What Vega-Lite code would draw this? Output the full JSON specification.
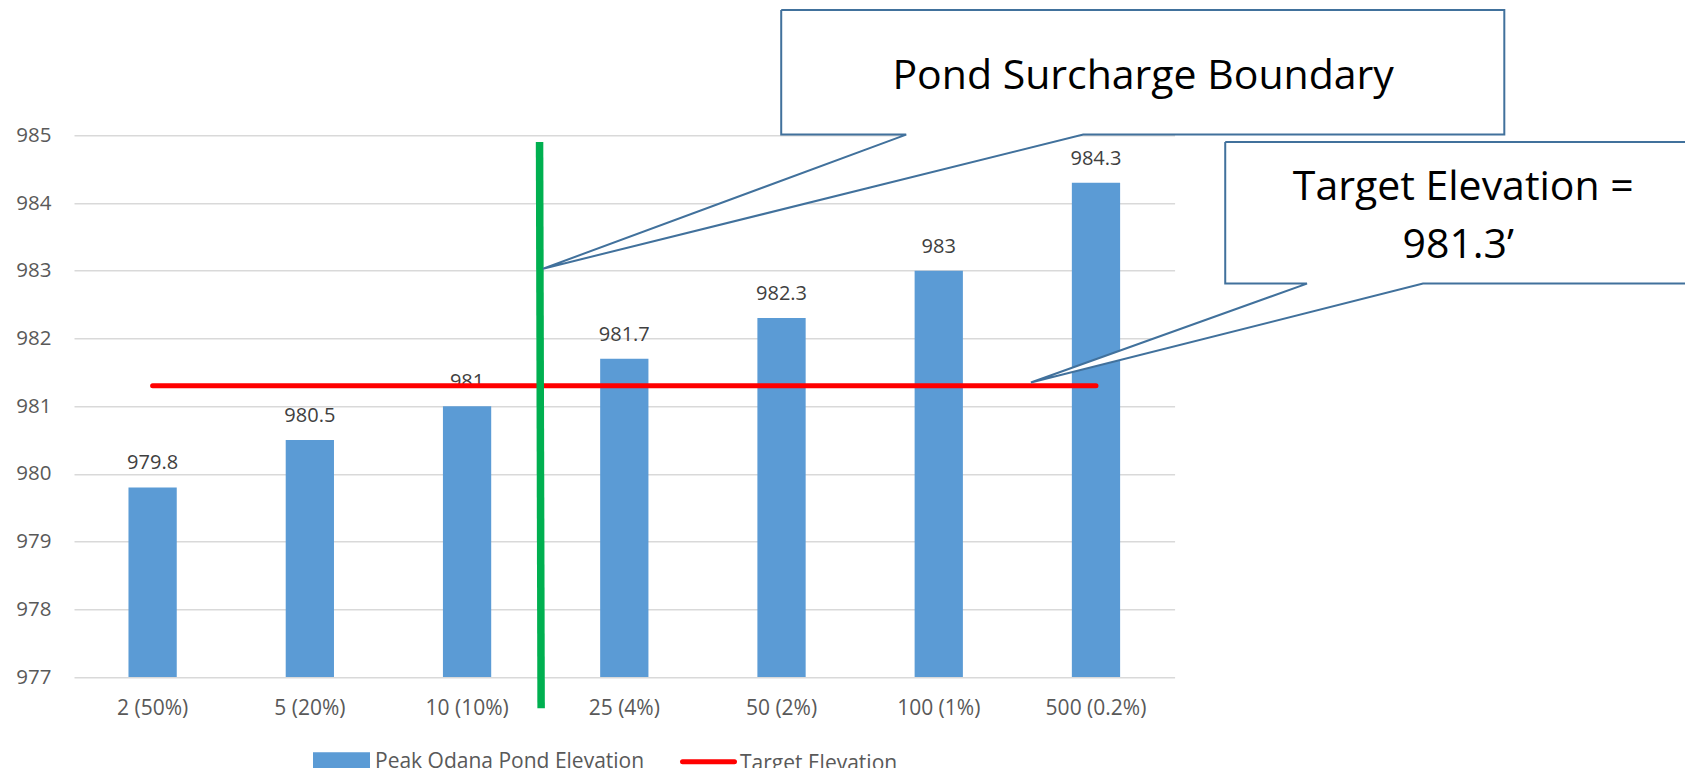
{
  "$schema": "https://vega.github.io/schema/vega-lite/v6.json",
  "autosize": {"type": "none"},
  "width": 1100.6,
  "height": 541.7,
  "padding": {"left": 74, "top": 135.3, "right": 510.4, "bottom": 91},
  "background": "white",
  "config": {
    "view": {"stroke": null},
    "font": "Open Sans",
    "axis": {"labelFont": "Open Sans", "labelColor": "#595959"}
  },
  "datasets": {
    "peaks": [
      {"period": "2 (50%)", "elev": 979.8, "series": "Peak Odana Pond Elevation"},
      {"period": "5 (20%)", "elev": 980.5, "series": "Peak Odana Pond Elevation"},
      {"period": "10 (10%)", "elev": 981, "series": "Peak Odana Pond Elevation"},
      {"period": "25 (4%)", "elev": 981.7, "series": "Peak Odana Pond Elevation"},
      {"period": "50 (2%)", "elev": 982.3, "series": "Peak Odana Pond Elevation"},
      {"period": "100 (1%)", "elev": 983, "series": "Peak Odana Pond Elevation"},
      {"period": "500 (0.2%)", "elev": 984.3, "series": "Peak Odana Pond Elevation"}
    ],
    "target": [
      {"period": "2 (50%)", "elev": 981.3, "series": "Target Elevation"},
      {"period": "500 (0.2%)", "elev": 981.3, "series": "Target Elevation"}
    ],
    "boundary": [
      {"xi": 2.961, "xi2": 2.971, "ye": 984.9, "ye2": 976.54}
    ],
    "callouts": [
      {"id": "a", "ord": 0, "xi": 4.498, "ye": 986.85},
      {"id": "a", "ord": 1, "xi": 9.097, "ye": 986.85},
      {"id": "a", "ord": 2, "xi": 9.097, "ye": 985.01},
      {"id": "a", "ord": 3, "xi": 6.419, "ye": 985.01},
      {"id": "a", "ord": 4, "xi": 2.983, "ye": 983.03},
      {"id": "a", "ord": 5, "xi": 5.293, "ye": 985.01},
      {"id": "a", "ord": 6, "xi": 4.498, "ye": 985.01},
      {"id": "a", "ord": 7, "xi": 4.498, "ye": 986.85},
      {"id": "b", "ord": 0, "xi": 7.322, "ye": 984.9},
      {"id": "b", "ord": 1, "xi": 10.6, "ye": 984.9},
      {"id": "b", "ord": 2, "xi": 10.6, "ye": 982.81},
      {"id": "b", "ord": 3, "xi": 8.58, "ye": 982.81},
      {"id": "b", "ord": 4, "xi": 6.086, "ye": 981.35},
      {"id": "b", "ord": 5, "xi": 7.842, "ye": 982.81},
      {"id": "b", "ord": 6, "xi": 7.322, "ye": 982.81},
      {"id": "b", "ord": 7, "xi": 7.322, "ye": 984.9}
    ],
    "notes": [
      {"label": "Pond Surcharge Boundary", "xi": 6.8, "ye": 985.68},
      {"label": "Target Elevation =", "xi": 8.836, "ye": 984.04},
      {"label": "981.3’", "xi": 8.804, "ye": 983.19}
    ]
  },
  "layer": [
    {
      "layer": [
        {
          "data": {"name": "peaks"},
          "mark": {"type": "bar", "fill": "#5B9BD5"},
          "encoding": {
            "x": {
              "field": "period", "type": "nominal", "sort": null,
              "scale": {"paddingInner": 0.693, "paddingOuter": 0.3465},
              "axis": {
                "title": null, "domain": false, "ticks": false, "tickSize": 0,
                "labelAngle": 0, "labelFontSize": 21, "labelPadding": 37,
                "labelBaseline": "alphabetic", "grid": false
              }
            },
            "y": {
              "field": "elev", "type": "quantitative", "title": null,
              "scale": {"domain": [977, 985], "zero": false, "nice": false},
              "axis": {
                "title": null, "domain": false, "ticks": false, "tickSize": 0,
                "values": [977, 978, 979, 980, 981, 982, 983, 984, 985],
                "format": "d",
                "labelFontSize": 20.5, "labelPadding": 23,
                "grid": true, "gridColor": "#D9D9D9", "gridWidth": 1.5
              }
            },
            "y2": {"datum": 977},
            "color": {
              "field": "series", "type": "nominal",
              "scale": {"domain": ["Peak Odana Pond Elevation", "Target Elevation"], "range": ["#5B9BD5", "#FF0000"]},
              "legend": {
                "title": null, "orient": "none", "direction": "horizontal",
                "legendX": 239, "legendY": 597.7, "padding": 0,
                "labelFont": "Open Sans", "labelFontSize": 21, "labelColor": "#595959",
                "labelLimit": 0,
                "labelOffset": 5, "columnPadding": 27, "symbolSize": 2704,
                "symbolStrokeWidth": 5,
                "encode": {
                  "symbols": {
                    "update": {
                      "shape": {"signal": "datum.label === 'Target Elevation' ? 'M-1,-0.19H1' : 'M-1,-0.27H1V0.27H-1Z'"},
                      "fill": {"signal": "datum.label === 'Target Elevation' ? 'transparent' : '#5B9BD5'"},
                      "stroke": {"signal": "datum.label === 'Target Elevation' ? '#FF0000' : 'transparent'"},
                      "strokeWidth": {"value": 5},
                      "strokeCap": {"value": "round"},
                      "size": {"value": 2704}
                    }
                  },
                  "labels": {
                    "update": {
                      "dy": {"signal": "datum.label === 'Target Elevation' ? -3 : 0"},
                      "dx": {"signal": "datum.label === 'Target Elevation' ? -2 : 0"}
                    }
                  }
                }
              }
            }
          }
        },
        {
          "data": {"name": "peaks"},
          "mark": {"type": "text", "baseline": "alphabetic", "dy": -18, "font": "Open Sans", "fontSize": 20, "color": "#404040"},
          "encoding": {
            "x": {"field": "period", "type": "nominal", "sort": null},
            "y": {"field": "elev", "type": "quantitative", "title": null},
            "text": {"field": "elev", "type": "nominal"}
          }
        },
        {
          "data": {"name": "target"},
          "mark": {"type": "line", "strokeWidth": 5, "strokeCap": "round"},
          "encoding": {
            "x": {"field": "period", "type": "nominal", "sort": null},
            "y": {"field": "elev", "type": "quantitative", "title": null},
            "color": {"field": "series", "type": "nominal"}
          }
        }
      ]
    },
    {
      "layer": [
        {
          "data": {"name": "boundary"},
          "mark": {"type": "rule", "stroke": "#00B050", "strokeWidth": 7.5},
          "encoding": {
            "x": {"field": "xi", "type": "quantitative", "scale": {"domain": [0, 7], "nice": false, "zero": false}, "axis": null},
            "x2": {"field": "xi2"},
            "y": {"field": "ye", "type": "quantitative", "title": null, "scale": {"domain": [977, 985], "zero": false, "nice": false}},
            "y2": {"field": "ye2"}
          }
        },
        {
          "data": {"name": "callouts"},
          "mark": {"type": "line", "stroke": "#41719C", "strokeWidth": 2, "fill": "white", "strokeJoin": "miter"},
          "encoding": {
            "x": {"field": "xi", "type": "quantitative", "axis": null},
            "y": {"field": "ye", "type": "quantitative", "title": null},
            "order": {"field": "ord", "type": "quantitative"},
            "detail": {"field": "id", "type": "nominal"}
          }
        },
        {
          "data": {"name": "notes"},
          "mark": {"type": "text", "baseline": "alphabetic", "align": "center", "font": "Open Sans", "fontSize": 41, "color": "black"},
          "encoding": {
            "x": {"field": "xi", "type": "quantitative", "axis": null},
            "y": {"field": "ye", "type": "quantitative", "title": null},
            "text": {"field": "label", "type": "nominal"}
          }
        }
      ]
    }
  ],
  "resolve": {"scale": {"x": "independent"}}
}
